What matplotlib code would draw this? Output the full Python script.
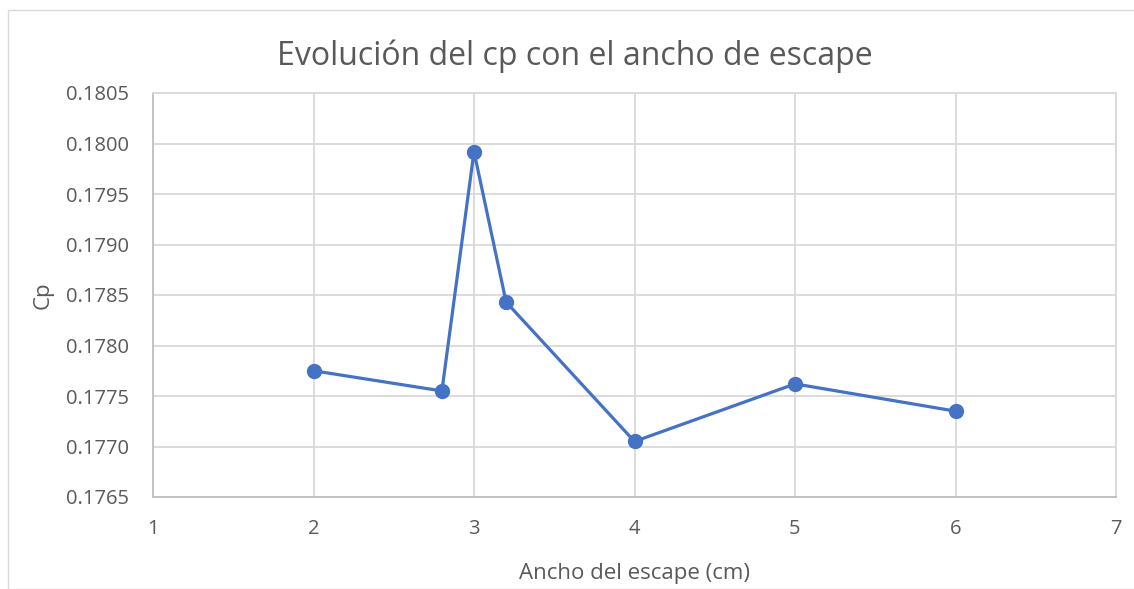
import matplotlib
matplotlib.use('Agg')
import matplotlib.pyplot as plt
import matplotlib.ticker as mticker
from matplotlib.patches import Rectangle

# Data
ancho = [2, 2.8, 3, 3.2, 4, 5, 6]
cp = [0.17775, 0.17755, 0.17992, 0.17843, 0.17705, 0.17762, 0.17735]
x_ticks = [1, 2, 3, 4, 5, 6, 7]
y_ticks = [0.1765, 0.1770, 0.1775, 0.1780, 0.1785, 0.1790, 0.1795, 0.1800, 0.1805]

BLUE = '#4472C4'
GRID = '#D9D9D9'
TEXT = '#595959'

plt.rcParams['font.family'] = ['Open Sans', 'DejaVu Sans']

W, H = 1134, 589
fig = plt.figure(figsize=(W / 100, H / 100), dpi=100)
fig.patch.set_facecolor('white')

# chart border (Excel-style frame)
fig.patches.append(Rectangle((8 / W, 0), 1, 1 - 10 / H, transform=fig.transFigure,
                             fill=False, edgecolor=GRID, linewidth=1.0))

ax = fig.add_axes([153 / W, 1 - 497 / H, (1116 - 153) / W, (497 - 93) / H])

ax.plot(ancho, cp, color=BLUE, linewidth=2.3, marker='o', markersize=10,
        markerfacecolor=BLUE, markeredgecolor=BLUE, zorder=3)

ax.set_xlim(1, 7)
ax.set_ylim(0.1765, 0.1805)
ax.set_xticks(x_ticks)
ax.set_yticks(y_ticks)
ax.yaxis.set_major_formatter(mticker.FormatStrFormatter('%.4f'))

ax.grid(True, color=GRID, linewidth=1.3)
ax.set_axisbelow(True)
for s in ax.spines.values():
    s.set_color(GRID)
    s.set_linewidth(1.3)
ax.spines['left'].set_color('#BFBFBF')
ax.spines['bottom'].set_color('#BFBFBF')

ax.tick_params(length=0, labelsize=14.5, labelcolor=TEXT)
ax.tick_params(axis='x', pad=16)
ax.tick_params(axis='y', pad=17)

ax.set_xlabel('Ancho del escape (cm)', fontsize=16, color=TEXT, labelpad=17)
ax.set_ylabel('Cp', fontsize=16, color=TEXT, labelpad=9)

fig.text(575 / W, 1 - 56 / H, 'Evolución del cp con el ancho de escape',
         fontsize=23, color=TEXT, ha='center', va='center')

fig.savefig('out.png', dpi=100, facecolor='white')
